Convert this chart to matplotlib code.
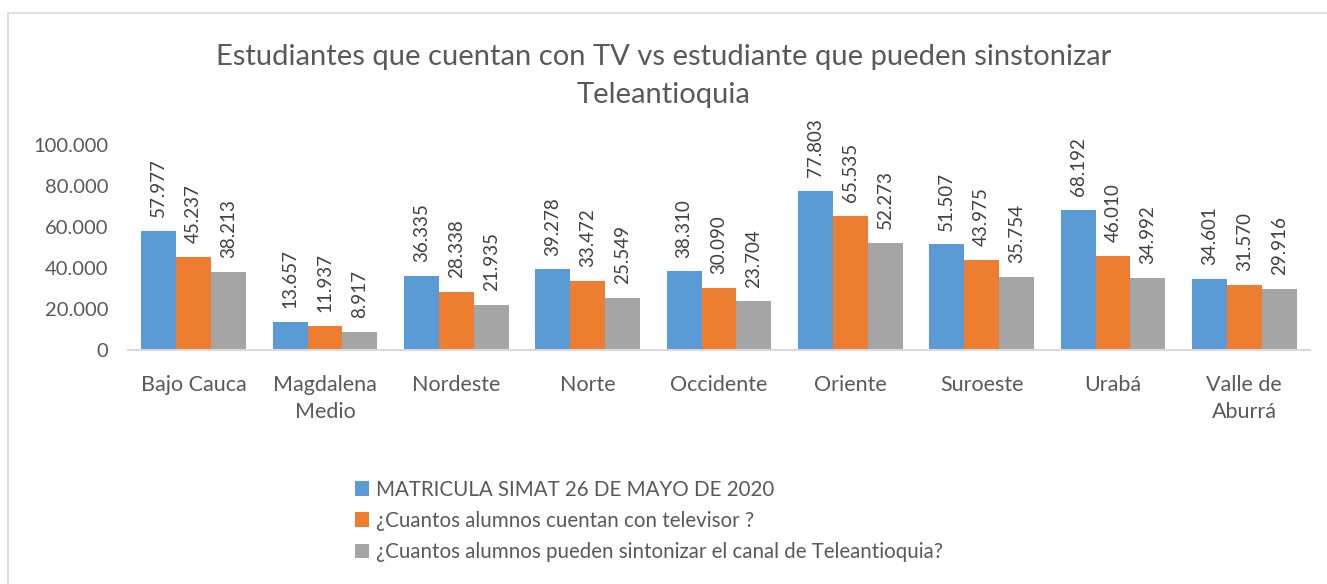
import numpy as np
import matplotlib
matplotlib.use('agg')
import matplotlib.pyplot as plt
from matplotlib.patches import Rectangle
from matplotlib.ticker import FuncFormatter

plt.rcParams['font.family'] = ['Lato', 'DejaVu Sans']

regions = ["Bajo Cauca", "Magdalena\nMedio", "Nordeste", "Norte", "Occidente",
           "Oriente", "Suroeste", "Urabá", "Valle de\nAburrá"]
matricula = [57977, 13657, 36335, 39278, 38310, 77803, 51507, 68192, 34601]
con_tv = [45237, 11937, 28338, 33472, 30090, 65535, 43975, 46010, 31570]
sintonizan = [38213, 8917, 21935, 25549, 23704, 52273, 35754, 34992, 29916]

series_names = ["MATRICULA SIMAT 26 DE MAYO DE 2020",
                "¿Cuantos alumnos cuentan con televisor ?",
                "¿Cuantos alumnos pueden sintonizar el canal de Teleantioquia?"]
colors = ["#5B9BD5", "#ED7D31", "#A5A5A5"]
text_color = "#595959"

def miles(v, pos=None):
    return f"{int(v):,}".replace(",", ".")

fig = plt.figure(figsize=(13.27, 5.84), dpi=100)
fig.patches.append(Rectangle((8 / 1327, -0.05), 1.1, 1 - 13 / 584 + 0.05,
                             transform=fig.transFigure, fill=False,
                             edgecolor="#D9D9D9", linewidth=1.2))

ax = fig.add_axes([128 / 1327, 1 - 350 / 584, 1182 / 1327, 205 / 584])

x = np.arange(len(regions))
w = 0.266
for i, (vals, name, c) in enumerate(zip([matricula, con_tv, sintonizan], series_names, colors)):
    bars = ax.bar(x + (i - 1) * w, vals, w, color=c, label=name)
    for b, v in zip(bars, vals):
        ax.annotate(miles(v), (b.get_x() + b.get_width() / 2, v),
                    xytext=(0, 10), textcoords="offset points",
                    rotation=90, ha="center", va="bottom",
                    fontsize=13.5, color="#404040")

ax.set_xlim(-0.5, len(regions) - 0.5)
ax.set_ylim(0, 100000)
ax.set_yticks(np.arange(0, 100001, 20000))
ax.yaxis.set_major_formatter(FuncFormatter(miles))
ax.set_xticks(x)
ax.set_xticklabels(regions, fontsize=15.5, color=text_color, linespacing=1.45)
ax.tick_params(axis="y", length=0, labelsize=14.5, labelcolor=text_color, pad=14)
ax.tick_params(axis="x", length=0, pad=18)
for s in ["top", "right", "left"]:
    ax.spines[s].set_visible(False)
ax.spines["bottom"].set_color("#D9D9D9")
ax.spines["bottom"].set_linewidth(1.5)

fig.text(0.5, 1 - 57 / 584, "Estudiantes que cuentan con TV vs estudiante que pueden sinstonizar",
         ha="center", va="center", fontsize=21, color=text_color)
fig.text(0.5, 1 - 95 / 584, "Teleantioquia",
         ha="center", va="center", fontsize=21, color=text_color)

fig.legend(loc="upper left", bbox_to_anchor=(336 / 1327, 1 - 461 / 584),
           frameon=False, fontsize=14.8, labelcolor=text_color,
           handlelength=0.7, handleheight=0.7, handletextpad=0.35,
           labelspacing=0.55)

fig.savefig("out.png", dpi=100)
